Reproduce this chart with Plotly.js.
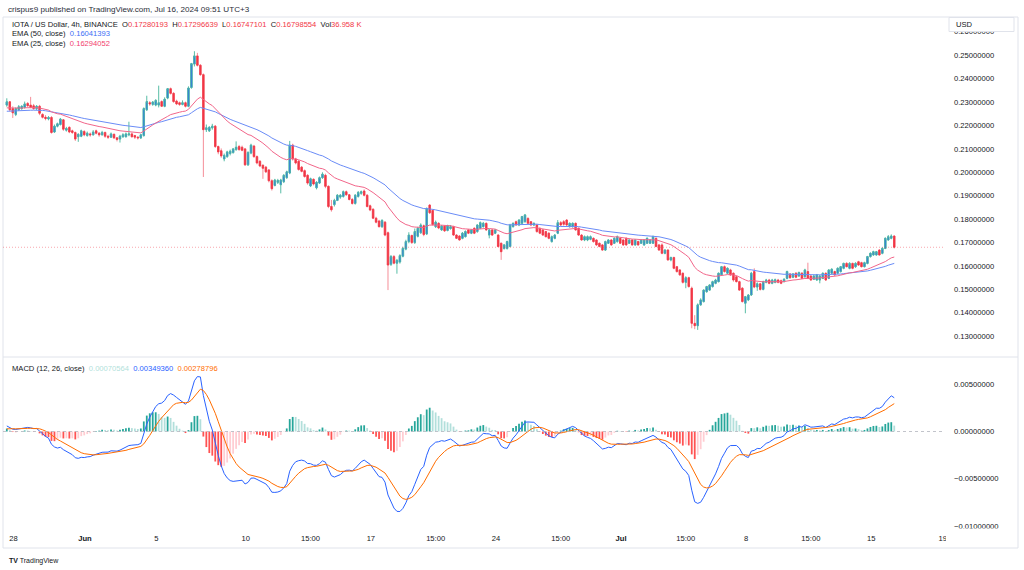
<!DOCTYPE html>
<html><head><meta charset="utf-8">
<script src="https://cdn.plot.ly/plotly-3.0.1.min.js"></script>
<style>html,body{margin:0;padding:0;background:#fff;}#chart{width:1024px;height:570px;}</style>
</head><body><div id="chart"></div>
<script>
// ---- data: IOTA/USD 4h candles (BINANCE), first bar 2024-05-27 15:00 (UTC+3) ----
const firstBarTime = '2024-05-27T15:00:00Z';
const open = [
.2287,.2301,.2272,.2247,.2267,.2272,.2277,.2294,.2287,.2284,
.2272,.2282,.2247,.2235,.2228,.2234,.2172,.2197,.2204,.2224,
.2180,.2192,.2177,.2170,.2152,.2154,.2174,.2157,.2164,.2160,
.2177,.2167,.2160,.2170,.2154,.2150,.2162,.2147,.2142,.2152,
.2152,.2160,.2164,.2157,.2150,.2147,.2157,.2267,.2297,.2290,
.2287,.2287,.2302,.2282,.2317,.2357,.2337,.2304,.2297,.2290,
.2297,.2282,.2362,.2462,.2497,.2457,.2417,.2182,.2177,.2190,
.2197,.2110,.2092,.2057,.2067,.2080,.2084,.2097,.2110,.2107,
.2100,.2032,.2082,.2112,.2067,.2047,.2030,.2022,.2010,.1964,
.1944,.1957,.1947,.1960,.1977,.1997,.2116,.2057,.2047,.2022,
.2007,.1987,.1942,.1970,.1934,.1954,.1977,.1987,.1940,.1854,
.1862,.1880,.1894,.1897,.1917,.1904,.1884,.1867,.1897,.1910,
.1920,.1902,.1857,.1842,.1804,.1792,.1768,.1787,.1742,.1607,
.1640,.1612,.1617,.1642,.1672,.1704,.1730,.1700,.1727,.1742,
.1772,.1737,.1860,.1837,.1768,.1782,.1754,.1770,.1752,.1760,
.1768,.1732,.1728,.1718,.1725,.1754,.1740,.1761,.1747,.1761,
.1768,.1782,.1732,.1754,.1740,.1732,.1697,.1675,.1675,.1683,
.1768,.1789,.1775,.1782,.1789,.1803,.1789,.1775,.1775,.1761,
.1754,.1747,.1740,.1704,.1718,.1740,.1785,.1789,.1796,.1768,
.1768,.1782,.1761,.1732,.1711,.1711,.1714,.1718,.1711,.1697,
.1690,.1668,.1697,.1711,.1697,.1704,.1718,.1711,.1718,.1697,
.1711,.1690,.1704,.1697,.1690,.1697,.1697,.1697,.1718,.1690,
.1690,.1654,.1668,.1626,.1636,.1597,.1583,.1569,.1530,.1550,
.1505,.1355,.1345,.1434,.1448,.1490,.1497,.1512,.1526,.1533,
.1562,.1597,.1569,.1583,.1569,.1554,.1533,.1505,.1441,.1455,
.1476,.1576,.1510,.1524,.1500,.1530,.1540,.1526,.1530,.1540,
.1537,.1533,.1547,.1566,.1552,.1569,.1557,.1569,.1554,.1576,
.1557,.1543,.1540,.1540,.1547,.1569,.1547,.1569,.1576,.1569,
.1576,.1590,.1611,.1590,.1611,.1597,.1618,.1614,.1597,.1611,
.1640,.1647,.1647,.1668,.1654,.1675,.1711,.1718,.17280193];
const high = [
.2316,.2304,.2282,.2277,.2287,.2286,.2302,.2300,.2322,.2292,
.2287,.2288,.2252,.2244,.2240,.2240,.2204,.2212,.2232,.2227,
.2194,.2196,.2182,.2174,.2167,.2182,.2180,.2174,.2170,.2180,
.2182,.2172,.2177,.2174,.2160,.2170,.2166,.2150,.2160,.2167,
.2170,.2216,.2170,.2160,.2154,.2164,.2277,.2327,.2304,.2304,
.2312,.2370,.2307,.2320,.2360,.2362,.2342,.2310,.2302,.2307,
.2302,.2367,.2467,.2517,.2510,.2462,.2422,.2204,.2197,.2207,
.2202,.2114,.2102,.2080,.2092,.2097,.2104,.2132,.2117,.2114,
.2104,.2090,.2122,.2117,.2072,.2052,.2034,.2027,.2014,.1970,
.1972,.1972,.1972,.1992,.2007,.2134,.2122,.2062,.2052,.2027,
.2012,.1992,.1977,.1974,.1962,.1982,.2000,.1994,.1944,.1882,
.1887,.1907,.1907,.1922,.1922,.1907,.1890,.1907,.1920,.1922,
.1927,.1907,.1862,.1847,.1810,.1797,.1800,.1792,.1747,.1647,
.1647,.1630,.1650,.1682,.1712,.1744,.1734,.1760,.1767,.1782,
.1777,.1850,.1864,.1842,.1794,.1787,.1775,.1774,.1776,.1775,
.1772,.1736,.1732,.1745,.1752,.1758,.1758,.1765,.1778,.1790,
.1788,.1786,.1758,.1758,.1758,.1736,.1700,.1694,.1708,.1780,
.1786,.1794,.1800,.1814,.1822,.1808,.1792,.1786,.1780,.1764,
.1758,.1750,.1744,.1730,.1736,.1796,.1792,.1796,.1800,.1786,
.1786,.1786,.1764,.1736,.1730,.1730,.1730,.1722,.1714,.1700,
.1694,.1708,.1714,.1714,.1722,.1730,.1722,.1714,.1722,.1714,
.1714,.1714,.1708,.1714,.1714,.1722,.1714,.1730,.1722,.1694,
.1697,.1672,.1672,.1640,.1640,.1600,.1586,.1572,.1556,.1554,
.1512,.1390,.1440,.1462,.1500,.1515,.1522,.1537,.1545,.1572,
.1600,.1602,.1594,.1588,.1572,.1558,.1537,.1510,.1472,.1480,
.1575,.1590,.1530,.1528,.1537,.1545,.1545,.1545,.1546,.1545,
.1542,.1548,.1580,.1570,.1570,.1574,.1576,.1574,.1588,.1614,
.1562,.1562,.1566,.1562,.1572,.1572,.1586,.1590,.1580,.1594,
.1600,.1614,.1616,.1616,.1614,.1616,.1622,.1618,.1618,.1643,
.1658,.1665,.1664,.1672,.1680,.1722,.1732,.1735,.17296639];
const low = [
.2280,.2260,.2232,.2240,.2262,.2267,.2272,.2280,.2274,.2267,
.2266,.2244,.2230,.2222,.2222,.2165,.2168,.2192,.2200,.2177,
.2174,.2167,.2164,.2134,.2130,.2150,.2154,.2152,.2152,.2157,
.2162,.2152,.2157,.2147,.2142,.2147,.2142,.2132,.2127,.2147,
.2148,.2154,.2148,.2142,.2140,.2142,.2152,.2262,.2284,.2284,
.2282,.2277,.2280,.2278,.2312,.2332,.2297,.2287,.2284,.2286,
.2277,.2278,.2357,.2452,.2452,.2412,.1980,.2172,.2172,.2182,
.2104,.2077,.2062,.2047,.2062,.2072,.2080,.2092,.2092,.2090,
.2027,.2027,.2077,.2062,.2034,.2022,.1972,.1997,.1957,.1922,
.1940,.1950,.1910,.1954,.1972,.1992,.2050,.2034,.2007,.2000,
.1977,.1947,.1937,.1944,.1927,.1950,.1972,.1932,.1847,.1832,
.1854,.1877,.1887,.1892,.1900,.1880,.1862,.1862,.1892,.1904,
.1897,.1850,.1834,.1800,.1782,.1764,.1762,.1727,.1497,.1600,
.1607,.1567,.1610,.1637,.1667,.1697,.1694,.1694,.1722,.1737,
.1727,.1732,.1822,.1772,.1762,.1757,.1750,.1745,.1748,.1755,
.1728,.1715,.1708,.1714,.1722,.1736,.1736,.1736,.1742,.1758,
.1764,.1750,.1718,.1728,.1736,.1680,.1626,.1670,.1670,.1680,
.1764,.1772,.1770,.1778,.1785,.1778,.1770,.1770,.1742,.1736,
.1728,.1722,.1714,.1700,.1714,.1736,.1770,.1772,.1770,.1764,
.1764,.1750,.1728,.1708,.1706,.1706,.1710,.1700,.1686,.1680,
.1665,.1664,.1694,.1686,.1694,.1700,.1694,.1686,.1686,.1694,
.1686,.1686,.1686,.1694,.1686,.1694,.1694,.1694,.1680,.1665,
.1650,.1650,.1622,.1620,.1586,.1572,.1558,.1525,.1505,.1508,
.1334,.1330,.1327,.1430,.1444,.1486,.1494,.1508,.1522,.1530,
.1558,.1572,.1565,.1558,.1533,.1530,.1494,.1444,.1398,.1450,
.1472,.1505,.1494,.1495,.1496,.1526,.1522,.1522,.1526,.1526,
.1522,.1530,.1543,.1545,.1548,.1548,.1554,.1544,.1550,.1544,
.1537,.1540,.1537,.1526,.1544,.1536,.1544,.1565,.1558,.1565,
.1572,.1586,.1594,.1586,.1586,.1592,.1600,.1594,.1594,.1607,
.1636,.1644,.1644,.1644,.1650,.1672,.1708,.1714,.16747101];
const close = [
.2301,.2267,.2254,.2272,.2280,.2282,.2292,.2284,.2277,.2272,
.2282,.2252,.2235,.2230,.2234,.2170,.2197,.2207,.2227,.2184,
.2187,.2172,.2170,.2142,.2162,.2177,.2160,.2167,.2160,.2172,
.2167,.2160,.2170,.2154,.2150,.2164,.2147,.2140,.2154,.2160,
.2164,.2164,.2152,.2150,.2147,.2160,.2272,.2302,.2292,.2300,
.2307,.2297,.2282,.2312,.2357,.2337,.2302,.2292,.2290,.2297,
.2282,.2360,.2464,.2497,.2457,.2417,.2182,.2190,.2192,.2197,
.2110,.2087,.2070,.2072,.2087,.2090,.2100,.2107,.2097,.2094,
.2032,.2084,.2116,.2067,.2040,.2027,.2017,.2002,.1964,.1930,
.1967,.1965,.1967,.1987,.2002,.2116,.2057,.2040,.2012,.2004,
.1982,.1954,.1972,.1950,.1957,.1977,.1992,.1940,.1854,.1840,
.1880,.1902,.1902,.1917,.1904,.1884,.1867,.1902,.1914,.1917,
.1902,.1854,.1839,.1804,.1787,.1768,.1794,.1732,.1604,.1640,
.1612,.1624,.1644,.1675,.1704,.1732,.1700,.1747,.1761,.1775,
.1734,.1844,.1827,.1777,.1787,.1762,.1770,.1750,.1772,.1768,
.1732,.1718,.1711,.1740,.1747,.1740,.1754,.1740,.1775,.1785,
.1782,.1754,.1754,.1732,.1754,.1683,.1661,.1690,.1704,.1775,
.1782,.1775,.1796,.1811,.1818,.1782,.1775,.1782,.1747,.1740,
.1732,.1725,.1718,.1725,.1732,.1785,.1775,.1778,.1775,.1782,
.1782,.1754,.1732,.1711,.1725,.1725,.1725,.1704,.1690,.1683,
.1668,.1704,.1711,.1690,.1718,.1725,.1697,.1690,.1690,.1711,
.1690,.1711,.1690,.1711,.1711,.1718,.1711,.1725,.1683,.1668,
.1654,.1668,.1626,.1636,.1590,.1576,.1562,.1530,.1550,.1512,
.1355,.1345,.1434,.1455,.1497,.1512,.1519,.1533,.1540,.1569,
.1597,.1576,.1590,.1562,.1540,.1533,.1497,.1448,.1469,.1476,
.1569,.1510,.1524,.1500,.1533,.1540,.1526,.1540,.1541,.1530,
.1526,.1543,.1576,.1550,.1566,.1552,.1572,.1547,.1583,.1547,
.1540,.1557,.1562,.1557,.1569,.1540,.1583,.1586,.1562,.1590,
.1597,.1611,.1597,.1611,.1590,.1611,.1604,.1597,.1614,.1640,
.1654,.1661,.1661,.1647,.1675,.1718,.1725,.1728,.16798554];

// indicator starting levels read at the left edge of the picture
const ema50Seed = 0.2259;
const ema25Seed = 0.2273;
const ema12Seed = 0.2274;
const ema26Seed = 0.2270;
const signalSeed = 0.0002;

// legend values as printed on the chart
const symbolTitle = 'IOTA / US Dollar, 4h, BINANCE';
const volumeText = '36.958 K';
const ema50Legend = '0.16041393';
const ema25Legend = '0.16294052';
const histLegend = '0.00070564';
const macdLegend = '0.00349360';
const signalLegend = '0.00278796';

// time-scale tick labels
const timeTickDates = ['2024-05-28 00:00','2024-06-01 00:00','2024-06-05 00:00','2024-06-10 00:00','2024-06-13 15:00',
  '2024-06-17 00:00','2024-06-20 15:00','2024-06-24 00:00','2024-06-27 15:00','2024-07-01 00:00',
  '2024-07-04 15:00','2024-07-08 00:00','2024-07-11 15:00','2024-07-15 00:00','2024-07-19 00:00'];
const timeTickLabels = ['28','<b>Jun</b>','5','10','15:00','17','15:00','24','15:00','<b>Jul</b>','15:00','8','15:00','15','19'];
const priceTickValues = [0.13,0.14,0.15,0.16,0.17,0.18,0.19,0.20,0.21,0.22,0.23,0.24,0.25,0.26];
const macdTickValues = [0.005, 0, -0.005, -0.01];

// ---- derived series ----
const barMs = 4 * 3600 * 1000;
const t0 = Date.parse(firstBarTime);
const times = close.map((_, i) => new Date(t0 + i * barMs).toISOString().slice(0, 16).replace('T', ' '));

function emaSeries(values, length, seed) {
  const k = 2 / (length + 1);
  let prev = seed;
  return values.map(v => (prev = prev + k * (v - prev)));
}
const ema50 = emaSeries(close, 50, ema50Seed);
const ema25 = emaSeries(close, 25, ema25Seed);
const ema12 = emaSeries(close, 12, ema12Seed);
const ema26 = emaSeries(close, 26, ema26Seed);
const macd = ema12.map((v, i) => v - ema26[i]);
const signal = emaSeries(macd, 9, signalSeed);
const hist = macd.map((v, i) => v - signal[i]);
const histColors = hist.map((h, i) => {
  const p = i > 0 ? hist[i - 1] : h;
  if (h >= 0) return h >= p ? '#26A69A' : '#B2DFDB';
  return h < p ? '#FF5252' : '#FFCDD2';
});
const bodyTop = open.map((o, i) => Math.max(o, close[i]));
const bodyBottom = open.map((o, i) => Math.min(o, close[i]));
const last = close.length - 1;

// ---- geometry helpers (pixel -> paper) ----
const W = 1024, H = 570;
const px = x => x / W;
const py = y => 1 - y / H;
const mainTop = 18, mainBottom = 355, macdTop = 358, macdBottom = 527;
const priceAt = y => 0.25 - (y - 55.2) * 0.000427;
const macdAt = y => (431.5 - y) * 0.0001057;
const xStart = new Date(t0 - (6.8 - 3) / 2.978 * barMs).toISOString().slice(0, 16).replace('T', ' ');
const xEnd = new Date(t0 + (945 - 6.8) / 2.978 * barMs).toISOString().slice(0, 16).replace('T', ' ');

const upWick = '#58bda6', upBody = '#2b6fe3', downWick = '#f58e98', downBody = '#f23645';

const traces = [
  { type: 'candlestick', x: times, open: open, high: high, low: low, close: close, xaxis: 'x', yaxis: 'y',
    increasing: { line: { color: upWick, width: 1 }, fillcolor: upWick },
    decreasing: { line: { color: downWick, width: 1 }, fillcolor: downWick },
    hoverinfo: 'skip', showlegend: false },
  { type: 'candlestick', x: times, open: open, high: bodyTop, low: bodyBottom, close: close, xaxis: 'x', yaxis: 'y',
    increasing: { line: { color: upWick, width: 0.6 }, fillcolor: upBody },
    decreasing: { line: { color: downBody, width: 0.6 }, fillcolor: downBody },
    hoverinfo: 'skip', showlegend: false },
  { type: 'scatter', mode: 'lines', x: times, y: ema50, line: { color: '#6a8cf7', width: 1 }, hoverinfo: 'skip', yaxis: 'y' },
  { type: 'scatter', mode: 'lines', x: times, y: ema25, line: { color: '#f2668a', width: 1 }, hoverinfo: 'skip', yaxis: 'y' },
  { type: 'bar', x: times, y: hist, marker: { color: histColors, line: { width: 0 } }, width: barMs * 0.6, yaxis: 'y2', hoverinfo: 'skip' },
  { type: 'scatter', mode: 'lines', x: times, y: macd, line: { color: '#2962FF', width: 1 }, hoverinfo: 'skip', yaxis: 'y2' },
  { type: 'scatter', mode: 'lines', x: times, y: signal, line: { color: '#FF6D00', width: 1 }, hoverinfo: 'skip', yaxis: 'y2' }
];

const font = 'Liberation Sans, Arial, sans-serif';
const axisFont = { family: font, size: 7.6, color: '#131722' };
const red = c => '<span style="color:#f23645">' + c + '</span>';
const sp = '\u00a0\u00a0';

const layout = {
  width: W, height: H, margin: { l: 0, r: 0, t: 0, b: 0 },
  paper_bgcolor: '#ffffff', plot_bgcolor: '#ffffff', showlegend: false,
  font: { family: font, size: 7.6, color: '#131722' },
  bargap: 0.3,
  xaxis: { type: 'date', domain: [px(3), px(945)], range: [xStart, xEnd], anchor: 'y2',
    showgrid: false, zeroline: false, showline: false, ticks: '',
    tickmode: 'array', tickvals: timeTickDates, ticktext: timeTickLabels, tickfont: axisFont,
    ticklabelstandoff: 5, rangeslider: { visible: false }, fixedrange: true },
  yaxis: { domain: [py(mainBottom), py(mainTop)], range: [priceAt(mainBottom), priceAt(mainTop)],
    side: 'right', anchor: 'x', showgrid: false, zeroline: false, showline: false, ticks: '',
    tickmode: 'array', tickvals: priceTickValues, ticktext: priceTickValues.map(v => v.toFixed(8)),
    tickfont: axisFont, ticklabelstandoff: 8, fixedrange: true },
  yaxis2: { domain: [py(macdBottom), py(macdTop)], range: [macdAt(macdBottom), macdAt(macdTop)],
    side: 'right', anchor: 'x', showgrid: false, zeroline: false, showline: false, ticks: '',
    tickmode: 'array', tickvals: macdTickValues,
    ticktext: macdTickValues.map(v => (v < 0 ? '\u2212' : '') + Math.abs(v).toFixed(8)),
    tickfont: axisFont, ticklabelstandoff: 8, fixedrange: true },
  shapes: [
    { type: 'rect', xref: 'paper', yref: 'paper', x0: px(3), x1: px(1018), y0: py(548), y1: py(17),
      line: { color: '#e0e3eb', width: 1 }, fillcolor: 'rgba(0,0,0,0)', layer: 'below' },
    { type: 'line', xref: 'paper', yref: 'paper', x0: px(3), x1: px(1018), y0: py(357), y1: py(357),
      line: { color: '#e0e3eb', width: 1 } },
    { type: 'line', xref: 'x domain', yref: 'y', x0: 0, x1: 1, y0: close[last], y1: close[last],
      line: { color: 'rgba(242,54,69,0.55)', width: 0.8, dash: '1px,2px' } },
    { type: 'line', xref: 'x domain', yref: 'y2', x0: 0, x1: 1, y0: 0, y1: 0,
      line: { color: '#b2b5be', width: 0.8, dash: '3px,3px' } },
    { type: 'rect', xref: 'paper', yref: 'paper', x0: px(946), x1: px(1017), y0: py(546), y1: py(528.5),
      line: { width: 0 }, fillcolor: '#ffffff', layer: 'above' },
    { type: 'rect', xref: 'paper', yref: 'paper', x0: px(949), x1: px(1014), y0: py(31.5), y1: py(17.5),
      line: { color: '#e0e3eb', width: 1 }, fillcolor: '#ffffff', layer: 'above' }
  ],
  annotations: [
    { xref: 'paper', yref: 'paper', x: px(6), y: py(9.3), xanchor: 'left', yanchor: 'middle', showarrow: false,
      text: 'crispus9 published on TradingView.com, Jul 16, 2024 09:51 UTC+3', font: { family: font, size: 8.1, color: '#2a2e39' } },
    { xref: 'paper', yref: 'paper', x: px(9.5), y: py(24.3), xanchor: 'left', yanchor: 'middle', showarrow: false,
      text: symbolTitle + sp + 'O' + red(open[last].toFixed(8)) + sp + 'H' + red(high[last].toFixed(8)) + sp +
        'L' + red(low[last].toFixed(8)) + sp + 'C' + red(close[last].toFixed(8)) + sp + 'Vol' + red(volumeText),
      font: { family: font, size: 7.6, color: '#131722' } },
    { xref: 'paper', yref: 'paper', x: px(9.5), y: py(34), xanchor: 'left', yanchor: 'middle', showarrow: false,
      text: 'EMA (50, close)' + sp + '<span style="color:#3d6ef5">' + ema50Legend + '</span>', font: { family: font, size: 7.6, color: '#131722' } },
    { xref: 'paper', yref: 'paper', x: px(9.5), y: py(43.3), xanchor: 'left', yanchor: 'middle', showarrow: false,
      text: 'EMA (25, close)' + sp + '<span style="color:#f2406e">' + ema25Legend + '</span>', font: { family: font, size: 7.6, color: '#131722' } },
    { xref: 'paper', yref: 'paper', x: px(9.5), y: py(368.5), xanchor: 'left', yanchor: 'middle', showarrow: false,
      text: 'MACD (12, 26, close)' + sp + '<span style="color:#B2DFDB">' + histLegend + '</span>' + sp +
        '<span style="color:#2962FF">' + macdLegend + '</span>' + sp + '<span style="color:#FF6D00">' + signalLegend + '</span>',
      font: { family: font, size: 7.6, color: '#131722' } },
    { xref: 'paper', yref: 'paper', x: px(954), y: py(24.8), xanchor: 'left', yanchor: 'middle', showarrow: false,
      text: 'USD', font: { family: font, size: 7.6, color: '#131722' } },
    { xref: 'paper', yref: 'paper', x: px(7), y: py(560.5), xanchor: 'left', yanchor: 'middle', showarrow: false,
      text: '<b>TV</b> TradingView', font: { family: font, size: 7, color: '#131722' } }
  ]
};

Plotly.newPlot('chart', traces, layout, { staticPlot: true, displayModeBar: false });
</script>
</body></html>
